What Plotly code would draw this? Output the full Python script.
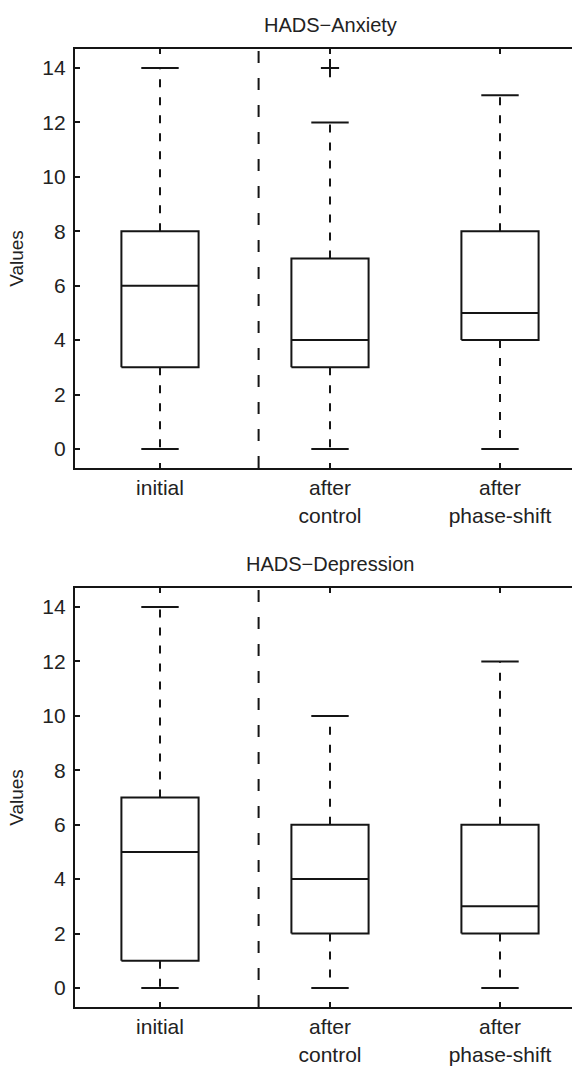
import plotly.graph_objects as go

# ---- data ----
categories = ["initial", "after<br>control", "after<br>phase-shift"]
cat_pos = [1, 2, 3]

anx_min = [0, 0, 0]
anx_q1 = [3, 3, 4]
anx_med = [6, 4, 5]
anx_q3 = [8, 7, 8]
anx_max = [14, 12, 13]
anx_out_x = [2]
anx_out_y = [14]

dep_min = [0, 0, 0]
dep_q1 = [1, 2, 2]
dep_med = [5, 4, 3]
dep_q3 = [7, 6, 6]
dep_max = [14, 10, 12]

y_ticks = [0, 2, 4, 6, 8, 10, 12, 14]

# ---- style constants ----
BOX_HALF = 0.227
CAP_HALF = 0.11
SEP_X = 1.58
FONT = "Liberation Sans, Arial, Helvetica, sans-serif"
LC = "#151515"
H = 1066
W = 572

fig = go.Figure()


def add_boxes(xa, ya, mins, q1s, meds, q3s, maxs):
    bx, by, mx, my, wx, wy, cx, cy = [], [], [], [], [], [], [], []
    for c, lo, a, m, b, hi in zip(cat_pos, mins, q1s, meds, q3s, maxs):
        bx += [c - BOX_HALF, c + BOX_HALF, c + BOX_HALF, c - BOX_HALF, c - BOX_HALF, None]
        by += [a, a, b, b, a, None]
        mx += [c - BOX_HALF, c + BOX_HALF, None]
        my += [m, m, None]
        wx += [c, c, None, c, c, None]
        wy += [b, hi, None, a, lo, None]
        cx += [c - CAP_HALF, c + CAP_HALF, None, c - CAP_HALF, c + CAP_HALF, None]
        cy += [hi, hi, None, lo, lo, None]
    common = dict(xaxis=xa, yaxis=ya, mode="lines", showlegend=False, hoverinfo="skip")
    fig.add_trace(go.Scatter(x=wx, y=wy, line=dict(color=LC, width=2, dash="8px,10px"), **common))
    fig.add_trace(go.Scatter(x=cx, y=cy, line=dict(color=LC, width=2), **common))
    fig.add_trace(go.Scatter(x=bx, y=by, line=dict(color=LC, width=2), **common))
    fig.add_trace(go.Scatter(x=mx, y=my, line=dict(color=LC, width=2), **common))


add_boxes("x", "y", anx_min, anx_q1, anx_med, anx_q3, anx_max)
fig.add_trace(go.Scatter(x=anx_out_x, y=anx_out_y, xaxis="x", yaxis="y", mode="markers",
                         marker=dict(symbol="cross-thin", size=13, line=dict(color=LC, width=2)),
                         showlegend=False, hoverinfo="skip"))
add_boxes("x2", "y2", dep_min, dep_q1, dep_med, dep_q3, dep_max)

# separators
for xa, ya in (("x", "y"), ("x2", "y2")):
    fig.add_trace(go.Scatter(x=[SEP_X, SEP_X], y=[-0.7, 14.7], xaxis=xa, yaxis=ya, mode="lines",
                             line=dict(color=LC, width=2, dash="12px,15px"),
                             showlegend=False, hoverinfo="skip"))

top_dom = [1 - 468 / H, 1 - 49 / H]
bot_dom = [1 - 1007 / H, 1 - 588 / H]

xcommon = dict(range=[0.5, 0.5 + (W - 75) / 170], tickvals=cat_pos, ticktext=categories,
               ticks="inside", ticklen=5, tickwidth=1.8, tickcolor=LC,
               showline=True, linecolor=LC, linewidth=2.4, mirror="ticks",
               showgrid=False, zeroline=False, automargin=False, ticklabelstandoff=0,
               tickfont=dict(family=FONT, size=21, color="#222"), domain=[0, 1])
ycommon = dict(range=[-0.7, 14.7], tickvals=y_ticks,
               ticks="inside", ticklen=5, tickwidth=1.8, tickcolor=LC,
               showline=True, linecolor=LC, linewidth=2.4,
               showgrid=False, zeroline=False, automargin=False, ticklabelstandoff=3,
               tickfont=dict(family=FONT, size=21, color="#222"),
               title=dict(text="Values", font=dict(family=FONT, size=19, color="#222"), standoff=14))

fig.update_layout(
    width=W, height=H,
    margin=dict(l=75, r=0, t=0, b=0),
    plot_bgcolor="white", paper_bgcolor="white",
    xaxis=dict(anchor="y", **xcommon),
    yaxis=dict(anchor="x", domain=top_dom, **ycommon),
    xaxis2=dict(anchor="y2", **xcommon),
    yaxis2=dict(anchor="x2", domain=bot_dom, **ycommon),
    annotations=[
        dict(text="HADS\u2212Anxiety", x=2, xref="x", y=top_dom[1] + 24 / H, yref="paper",
             xanchor="center", yanchor="middle", showarrow=False,
             font=dict(family=FONT, size=20, color="#222")),
        dict(text="HADS\u2212Depression", x=2, xref="x2", y=bot_dom[1] + 24 / H, yref="paper",
             xanchor="center", yanchor="middle", showarrow=False,
             font=dict(family=FONT, size=20, color="#222")),
    ],
)

fig.write_html("out.html", config={"displayModeBar": False},
               post_script="document.body.style.margin='0';document.body.style.overflow='hidden';")
